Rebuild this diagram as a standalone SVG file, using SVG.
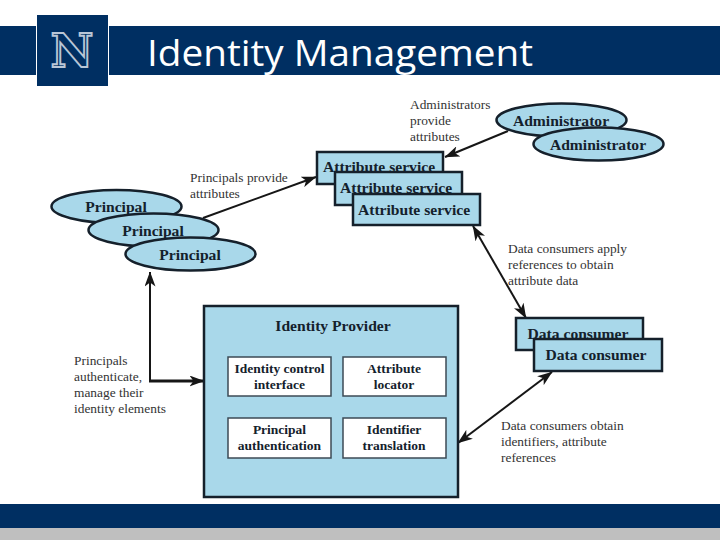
<svg xmlns="http://www.w3.org/2000/svg" width="720" height="540" viewBox="0 0 720 540">
<style>
.node{fill:#a9d8ea;stroke:#15202b;stroke-width:2.5}
.box{fill:#fff;stroke:#3c4a55;stroke-width:1.5}
.b{font-family:"Liberation Serif",serif;font-weight:bold;font-size:15.6px;fill:#14212c;text-anchor:middle}
.s{font-size:13.5px}
.l{font-family:"Liberation Serif",serif;font-size:13.4px;fill:#333}
.c{fill:none;stroke:#161616;stroke-width:2}
</style>
<defs>
<marker id="a" viewBox="0 0 15 11" refX="14.5" refY="5.5" markerWidth="15" markerHeight="11" markerUnits="userSpaceOnUse" orient="auto-start-reverse"><path d="M0 0L15 5.5L0 11L4 5.500Z" fill="#161616"/></marker>
</defs>
<rect width="720" height="540" fill="#fff"/>
<g id="banner">
<rect x="0" y="26" width="720" height="49" fill="#002f62"/>
<rect x="36" y="14" width="73" height="73" fill="#fff"/>
<rect x="37" y="15" width="71" height="71" fill="#002f62"/>
<text x="72" y="66.500" font-family="'DejaVu Serif',serif" font-weight="bold" font-size="46" text-anchor="middle" textLength="43" lengthAdjust="spacingAndGlyphs" fill="#002f62" stroke="#b9c6d6" stroke-width="1.8">N</text>
<text x="147" y="66" font-family="'Open Sans',sans-serif" font-size="37" fill="#fff" textLength="386" lengthAdjust="spacingAndGlyphs">Identity Management</text>
</g>
<g id="footer">
<rect x="0" y="504" width="720" height="24" fill="#002f62"/>
<rect x="0" y="528" width="720" height="12" fill="#bfbfbf"/>
</g>
<g id="connectors">
<path class="c" d="M203 218L316 177" marker-end="url(#a)"/>
<path class="c" d="M508 131L445 157" marker-end="url(#a)"/>
<path class="c" d="M473 226L526 318" marker-start="url(#a)" marker-end="url(#a)"/>
<path class="c" d="M552 372L458 443" marker-start="url(#a)" marker-end="url(#a)"/>
<path class="c" d="M150 272V381" marker-start="url(#a)"/>
<path class="c" style="stroke-width:3" d="M149 381H204" marker-end="url(#a)"/>
</g>
<g id="admin1"><ellipse class="node" cx="561.500" cy="120" rx="65" ry="16.500"/><text class="b" x="561" y="126">Administrator</text></g>
<g id="admin2"><ellipse class="node" cx="598.500" cy="144" rx="65" ry="16.500"/><text class="b" x="598" y="150">Administrator</text></g>
<g id="principal1"><ellipse class="node" cx="116.500" cy="206.500" rx="65" ry="16.500"/><text class="b" x="116" y="212">Principal</text></g>
<g id="principal2"><ellipse class="node" cx="153.500" cy="230" rx="65" ry="16.500"/><text class="b" x="153" y="236">Principal</text></g>
<g id="principal3"><ellipse class="node" cx="190.500" cy="254" rx="65" ry="16.500"/><text class="b" x="190" y="260">Principal</text></g>
<g id="attr1"><rect class="node" x="317" y="152" width="126" height="32"/><text class="b" x="379" y="172">Attribute service</text></g>
<g id="attr2"><rect class="node" x="335" y="172" width="127" height="33"/><text class="b" x="396" y="193">Attribute service</text></g>
<g id="attr3"><rect class="node" x="353" y="194" width="127" height="31"/><text class="b" x="414" y="215">Attribute service</text></g>
<g id="consumer1"><rect class="node" x="516" y="318" width="127" height="32"/><text class="b" x="578" y="339">Data consumer</text></g>
<g id="consumer2"><rect class="node" x="534" y="339" width="128" height="32"/><text class="b" x="596" y="360">Data consumer</text></g>
<g id="identity-provider"><rect x="204" y="306" width="254" height="191" fill="#a9d8ea" stroke="#15202b" stroke-width="2.500"/><text class="b" x="333" y="331">Identity Provider</text></g>
<g id="identity-control"><rect class="box" x="228" y="357" width="103" height="39"/><text class="b s" x="279.500" y="373">Identity control</text><text class="b s" x="279.500" y="389">interface</text></g>
<g id="attribute-locator"><rect class="box" x="343" y="357" width="103" height="39"/><text class="b s" x="394" y="373">Attribute</text><text class="b s" x="394" y="389">locator</text></g>
<g id="principal-auth"><rect class="box" x="228" y="418" width="103" height="40"/><text class="b s" x="279.500" y="434">Principal</text><text class="b s" x="279.500" y="450">authentication</text></g>
<g id="identifier-translation"><rect class="box" x="343" y="418" width="103" height="40"/><text class="b s" x="394" y="434">Identifier</text><text class="b s" x="394" y="450">translation</text></g>
<g id="labels">
<text class="l" x="410" y="109">Administrators</text><text class="l" x="410" y="125">provide</text><text class="l" x="410" y="141">attributes</text>
<text class="l" x="190" y="182">Principals provide</text><text class="l" x="190" y="198">attributes</text>
<text class="l" x="508" y="253">Data consumers apply</text><text class="l" x="508" y="269">references to obtain</text><text class="l" x="508" y="285">attribute data</text>
<text class="l" x="74" y="365">Principals</text><text class="l" x="74" y="381">authenticate,</text><text class="l" x="74" y="397">manage their</text><text class="l" x="74" y="413">identity elements</text>
<text class="l" x="501" y="430">Data consumers obtain</text><text class="l" x="501" y="446">identifiers, attribute</text><text class="l" x="501" y="462">references</text>
</g>
</svg>
